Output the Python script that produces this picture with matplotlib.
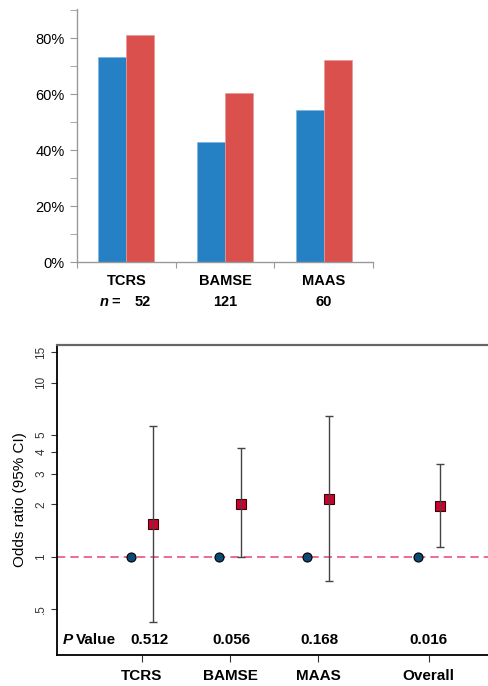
import matplotlib
matplotlib.use("Agg")
import matplotlib.pyplot as plt
import matplotlib.transforms as mtransforms
import numpy as np

plt.rcParams['font.family'] = ['Liberation Sans', 'DejaVu Sans']

# prevalence by cohort
cohorts = ["TCRS", "BAMSE", "MAAS"]
n_sizes = ["52", "121", "60"]
pct_blue = [73.1, 43.0, 54.4]
pct_red = [81.0, 60.4, 72.0]

# odds ratios with 95% CI
or_groups = ["TCRS", "BAMSE", "MAAS", "Overall"]
or_pos = [1, 2, 3, 4.25]
or_ref = [1, 1, 1, 1]
or_est = [1.54, 2.02, 2.15, 1.96]
or_lo = [0.42, 0.99, 0.725, 1.13]
or_hi = [5.66, 4.2, 6.46, 3.40]
p_values = ["0.512", "0.056", "0.168", "0.016"]

blue = "#2581C4"
red = "#DA504D"

fig = plt.figure(figsize=(4.89, 6.86), dpi=100)

# ---- bar chart ----
ax1 = fig.add_axes([77/489, 1-262/686, (373-77)/489, (262-9)/686])
x = np.arange(len(cohorts))
w = 0.284
ax1.bar(x - w/2, pct_blue, w, color=blue, edgecolor="#7fb3dd", linewidth=0.5)
ax1.bar(x + w/2, pct_red, w, color=red, edgecolor="#e89a98", linewidth=0.5)
ax1.set_xlim(-0.5, 2.5)
ax1.set_ylim(0, 90.4)
ax1.set_yticks([0, 20, 40, 60, 80])
ax1.set_yticklabels(["0%", "20%", "40%", "60%", "80%"], fontsize=10.5)
ax1.set_yticks([10, 30, 50, 70, 90], minor=True)
ax1.set_xticks([-0.5, 0.5, 1.5, 2.5])
ax1.set_xticklabels([])
for s in ["top", "right"]:
    ax1.spines[s].set_visible(False)
for s in ["left", "bottom"]:
    ax1.spines[s].set_color("#999999")
    ax1.spines[s].set_linewidth(1.0)
ax1.tick_params(axis="y", which="both", length=5, color="#999999", pad=4)
ax1.tick_params(axis="x", length=4, color="#999999")

trans1 = mtransforms.blended_transform_factory(ax1.transData, fig.transFigure)
for i, (c, n) in enumerate(zip(cohorts, n_sizes)):
    ax1.text(i, 1-281/686, c, transform=trans1, ha="center", va="center",
             fontsize=10.5, fontweight="bold")
    if i == 0:
        ax1.text(i - 0.265, 1-302/686, "n", transform=trans1, ha="left", va="center",
                 fontsize=10.5, fontweight="bold", fontstyle="italic")
        ax1.text(i - 0.15, 1-302/686, "=", transform=trans1, ha="left", va="center",
                 fontsize=10.5, fontweight="bold")
        ax1.text(i + 0.245, 1-302/686, n, transform=trans1, ha="right", va="center",
                 fontsize=10.5, fontweight="bold")
    else:
        ax1.text(i, 1-302/686, n, transform=trans1, ha="center", va="center",
                 fontsize=10.5, fontweight="bold")

# ---- odds ratio plot ----
ax2 = fig.add_axes([57/489, 1-655/686, (492-57)/489, (655-345)/686])
ax2.set_yscale("log")
ax2.set_ylim(0.272, 16.5)
ax2.set_xlim(0.041, 4.967)
ax2.axhline(1, color="#E8557D", linestyle=(0, (5, 3)), linewidth=1.2, zorder=1)

off = 0.125
ref_x = [p - off for p in or_pos]
est_x = [p + off for p in or_pos]
ax2.plot(ref_x, or_ref, "o", color="#0B4A73", markeredgecolor="black",
         markeredgewidth=0.8, markersize=6.5, zorder=3)
ax2.plot(est_x, or_est, "s", color="#D0002A", markeredgecolor="#3a0008",
         markeredgewidth=0.8, markersize=7.5, zorder=3)
err = [np.array(or_est) - np.array(or_lo), np.array(or_hi) - np.array(or_est)]
ax2.errorbar(est_x, or_est, yerr=err, fmt="none", ecolor="#444444",
             elinewidth=1.0, capsize=3, capthick=1.0, zorder=4)

ax2.set_xticks(or_pos)
ax2.set_xticklabels(or_groups, fontsize=11, fontweight="bold")
ax2.tick_params(axis="x", length=5, pad=5, color="#333333")
yt = [0.5, 1, 2, 3, 4, 5, 10, 15]
ax2.yaxis.set_major_locator(matplotlib.ticker.FixedLocator(yt))
ax2.yaxis.set_minor_locator(matplotlib.ticker.NullLocator())
ax2.set_yticklabels([".5", "1", "2", "3", "4", "5", "10", "15"], fontsize=8.5,
                    rotation=90, va="center", color="#333333")
ax2.tick_params(axis="y", length=4, pad=3, color="#333333")
ax2.set_ylabel("Odds ratio (95% CI)", fontsize=11, labelpad=6)

ax2.spines["right"].set_visible(False)
ax2.spines["top"].set_color("#666666")
ax2.spines["top"].set_linewidth(1.6)
ax2.spines["left"].set_linewidth(1.3)
ax2.spines["bottom"].set_linewidth(1.3)

trans2 = mtransforms.blended_transform_factory(ax2.transData, fig.transFigure)
py = 1 - 640/686
ax2.text(0.11, py, "P", transform=trans2, ha="left", va="center",
         fontsize=11, fontweight="bold", fontstyle="italic")
ax2.text(0.25, py, "Value", transform=trans2, ha="left", va="center",
         fontsize=11, fontweight="bold")
p_x = [1.094, 2.02, 3.01, 4.25]
for px, pv in zip(p_x, p_values):
    ax2.text(px, py, pv, transform=trans2, ha="center", va="center",
             fontsize=11, fontweight="bold")

fig.savefig("out.png", dpi=100)
